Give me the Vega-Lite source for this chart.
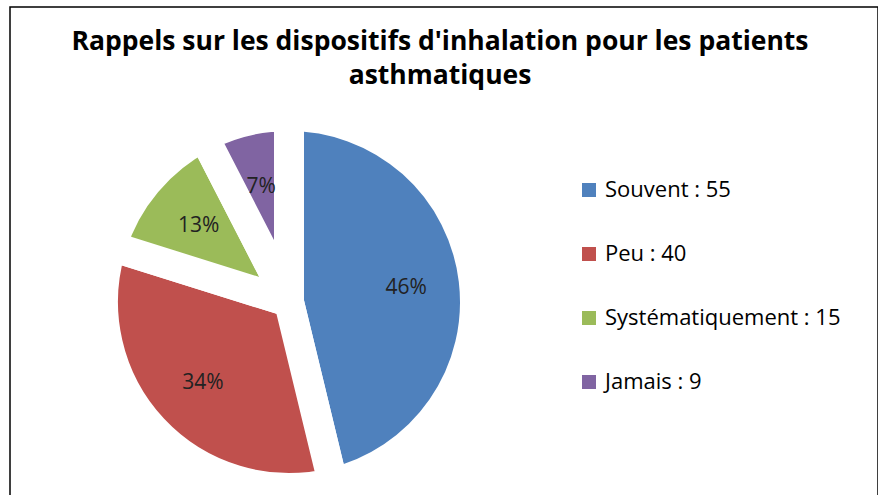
{
  "$schema": "https://vega.github.io/schema/vega-lite/v6.json",
  "width": 868,
  "height": 490,
  "autosize": {"type": "none"},
  "padding": {"left": 10, "top": 7, "right": 0, "bottom": 0},
  "background": "white",
  "view": {"stroke": "black", "strokeWidth": 1.5, "fill": "white"},
  "config": {"font": "Open Sans"},
  "title": {
    "text": ["Rappels sur les dispositifs d'inhalation pour les patients", "asthmatiques"],
    "font": "Open Sans",
    "fontSize": 26.5,
    "fontWeight": "bold",
    "lineHeight": 34,
    "anchor": "middle",
    "frame": "group",
    "baseline": "alphabetic",
    "offset": -103,
    "dx": -4,
    "color": "black"
  },
  "data": {
    "values": [
      {"ordre": 1, "categorie": "Souvent", "effectif": 55, "etiquette": "Souvent : 55", "pourcentage": "46%"},
      {"ordre": 2, "categorie": "Peu", "effectif": 40, "etiquette": "Peu : 40", "pourcentage": "34%"},
      {"ordre": 3, "categorie": "Systématiquement", "effectif": 15, "etiquette": "Systématiquement : 15", "pourcentage": "13%"},
      {"ordre": 4, "categorie": "Jamais", "effectif": 9, "etiquette": "Jamais : 9", "pourcentage": "7%"}
    ]
  },
  "encoding": {
    "theta": {"field": "effectif", "type": "quantitative", "stack": true},
    "order": {"field": "ordre", "type": "quantitative"}
  },
  "layer": [
    {
      "mark": {"type": "arc", "x": 279, "y": 295, "outerRadius": 186, "stroke": "white", "strokeWidth": 30, "strokeJoin": "round"},
      "encoding": {
        "color": {
          "field": "etiquette",
          "type": "nominal",
          "scale": {
            "domain": ["Souvent : 55", "Peu : 40", "Systématiquement : 15", "Jamais : 9"],
            "range": ["#4F81BD", "#C0504D", "#9BBB59", "#8064A2"]
          },
          "legend": {
            "orient": "none",
            "legendX": 568,
            "legendY": 172,
            "title": null,
            "symbolType": "square",
            "symbolSize": 196,
            "symbolStrokeWidth": 0,
            "labelFontSize": 22,
            "labelFont": "Open Sans",
            "labelColor": "black",
            "labelLimit": 400,
            "rowPadding": 42,
            "labelOffset": 5,
            "padding": 0
          }
        }
      }
    },
    {
      "mark": {"type": "text", "x": 279, "y": 295, "radius": 118, "fontSize": 21, "font": "Open Sans", "fill": "#222"},
      "encoding": {
        "text": {"field": "pourcentage", "type": "nominal"}
      }
    }
  ]
}
